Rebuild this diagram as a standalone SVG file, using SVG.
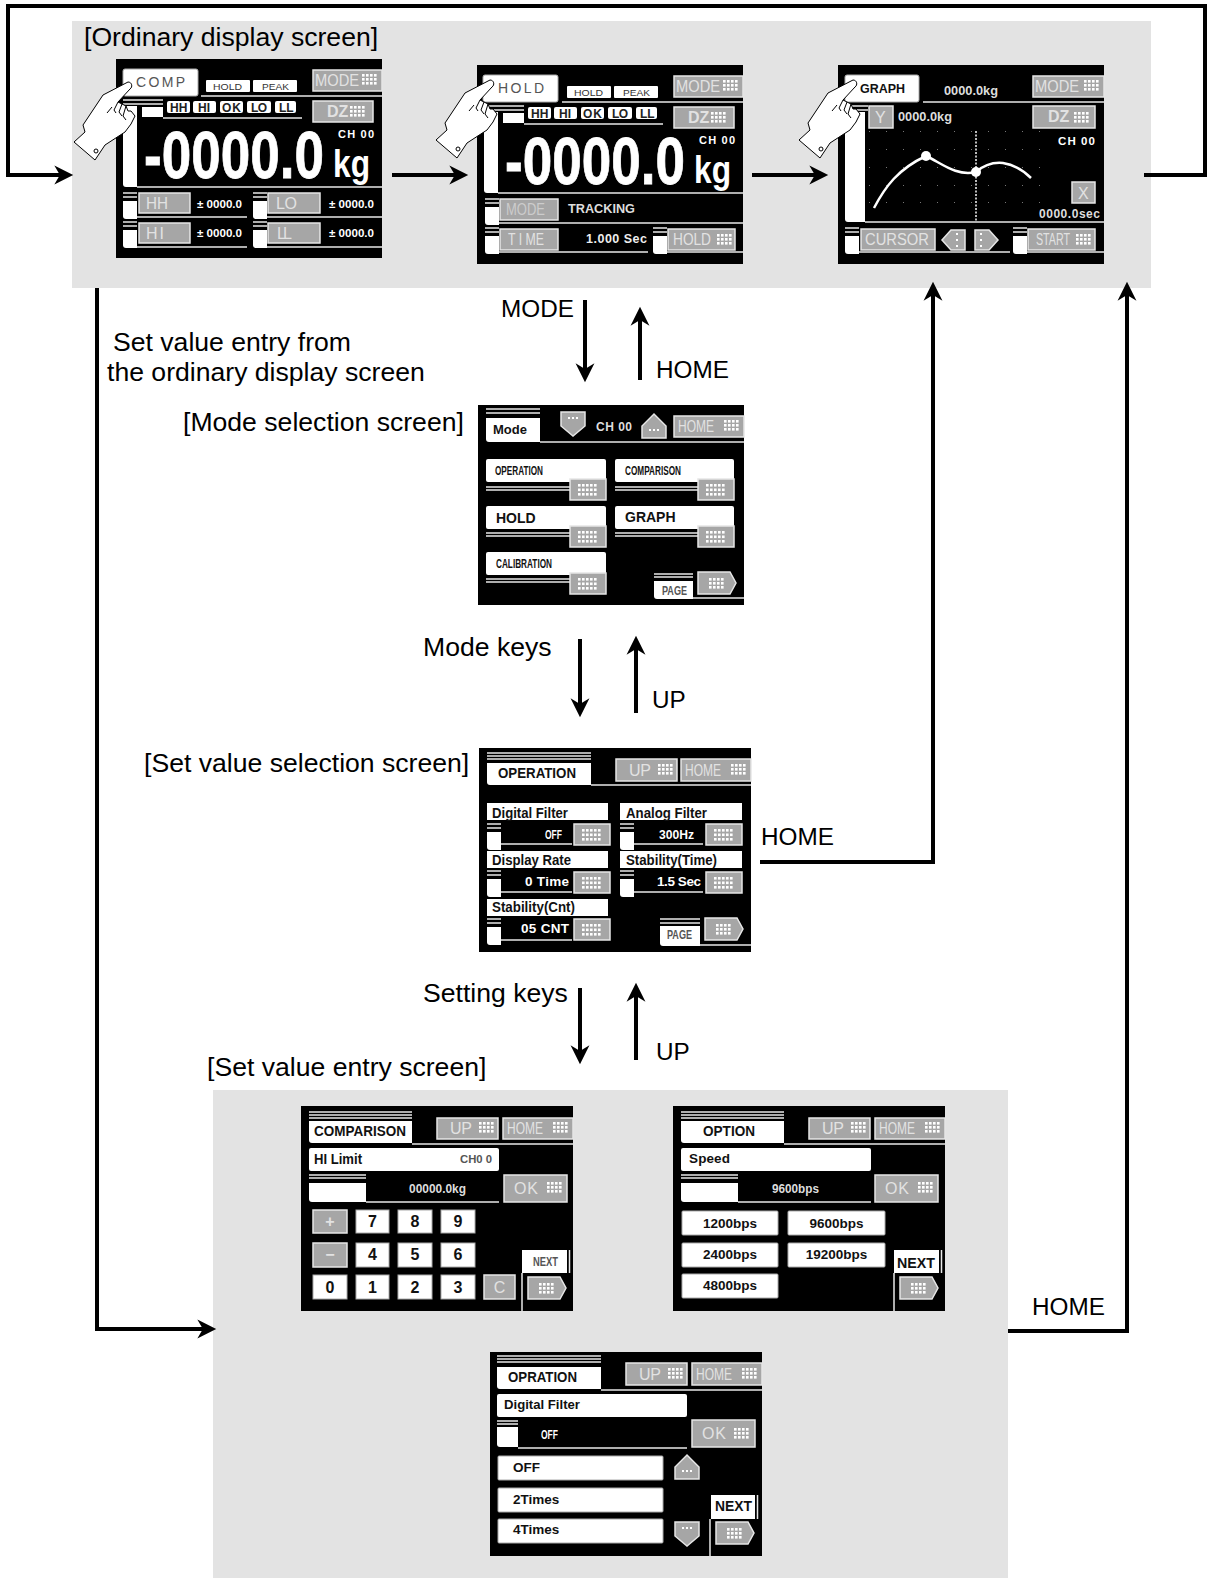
<svg xmlns="http://www.w3.org/2000/svg" width="1211" height="1578" viewBox="0 0 1211 1578">
<style>
text{font-family:"Liberation Sans",Arial,sans-serif}
.lb{font-size:26.6px;fill:#000}
.lc{font-size:24.300px;fill:#000}
.bg{fill:#e3e3e3}
.sc{fill:#000}
.w{fill:#fff}
.wb{fill:#fff;stroke:#aaa;stroke-width:1}
.k{fill:#a6a6a6;stroke:#e6e6e6;stroke-width:1.5}
.ln{stroke:#e8e8e8;stroke-width:1.5;fill:none}
.kt{font-size:16px;fill:#e2e2e2}
.bk{font-weight:bold;fill:#111}
.wt{font-weight:bold;fill:#fff}
.gt{fill:#555;font-weight:bold}
.cn{stroke:#000;stroke-width:4;fill:none}
.hand{fill:#fff;stroke:#000;stroke-width:1}
.hl{fill:none;stroke:#000;stroke-width:1}
</style>
<defs>
<marker id="ah" markerUnits="userSpaceOnUse" markerWidth="20" markerHeight="20" viewBox="0 -9 18 18" refX="6" refY="0" orient="auto"><path d="M0,-8.500 L17,0 L0,8.500 L5,0 Z" fill="#000"/></marker>
<g id="d" fill="#fff"><rect x="0" y="0" width="2.600" height="2.600"/><rect x="4" y="0" width="2.600" height="2.600"/><rect x="8" y="0" width="2.600" height="2.600"/><rect x="12" y="0" width="2.600" height="2.600"/><rect x="0" y="4" width="2.600" height="2.600"/><rect x="4" y="4" width="2.600" height="2.600"/><rect x="8" y="4" width="2.600" height="2.600"/><rect x="12" y="4" width="2.600" height="2.600"/><rect x="0" y="8" width="2.600" height="2.600"/><rect x="4" y="8" width="2.600" height="2.600"/><rect x="8" y="8" width="2.600" height="2.600"/><rect x="12" y="8" width="2.600" height="2.600"/></g>
<g id="m"><rect class="k" x="0" y="0" width="36" height="21"/><g fill="#fff"><rect x="8" y="5" width="2.600" height="2.600"/><rect x="12" y="5" width="2.600" height="2.600"/><rect x="16" y="5" width="2.600" height="2.600"/><rect x="20" y="5" width="2.600" height="2.600"/><rect x="24" y="5" width="2.600" height="2.600"/><rect x="8" y="9.500" width="2.600" height="2.600"/><rect x="12" y="9.500" width="2.600" height="2.600"/><rect x="16" y="9.500" width="2.600" height="2.600"/><rect x="20" y="9.500" width="2.600" height="2.600"/><rect x="24" y="9.500" width="2.600" height="2.600"/><rect x="8" y="14" width="2.600" height="2.600"/><rect x="12" y="14" width="2.600" height="2.600"/><rect x="16" y="14" width="2.600" height="2.600"/><rect x="20" y="14" width="2.600" height="2.600"/><rect x="24" y="14" width="2.600" height="2.600"/></g></g>
<g id="ak"><polygon class="k" points="0,0 32,0 38,11 32,22 0,22"/><use href="#d" x="11" y="6"/></g>
<g id="up"><polygon class="k" points="0,24 0,12 12,0 24,12 24,24"/><rect x="7" y="15" width="2" height="2" fill="#fff"/><rect x="11" y="15" width="2" height="2" fill="#fff"/><rect x="15" y="15" width="2" height="2" fill="#fff"/></g>
<g id="dn"><polygon class="k" points="0,0 24,0 24,14 12,24 0,14"/><rect x="7" y="5" width="2" height="2" fill="#fff"/><rect x="11" y="5" width="2" height="2" fill="#fff"/><rect x="15" y="5" width="2" height="2" fill="#fff"/></g>
<g id="hand"><path class="hand" d="M58,62 C62,62 63,67 60,69 L48,82 L52,84 L56,86 L58,91 L61,91 L65,96 L61,104 L55,112 L35,125 L25,140 L4,122 L15,112 L13,105 L33,75 Z"/><path class="hl" d="M48,82 L44,90 L46,93 M52,84 L49,92 L52,96 M56,86 L53,96 L56,100 M42,87 L37,93"/><circle class="hl" cx="26" cy="131" r="2"/></g>
<g id="rowf"><path class="ln" d="M0,1 H14 M0,5 H14"/><path class="w" d="M0,9 H14 V27 H3 Q0,27 0,24 Z"/></g>
</defs>

<rect class="bg" x="72" y="21" width="1079" height="267"/>
<rect class="bg" x="213" y="1090" width="795" height="488"/>

<g id="connectors">
<path class="cn" d="M1144,175 H1205 V6 H8 V175 H61" marker-end="url(#ah)"/>
<path class="cn" d="M392,175 H456" marker-end="url(#ah)"/>
<path class="cn" d="M752,175 H816" marker-end="url(#ah)"/>
<path class="cn" d="M97,288 V1329 H204" marker-end="url(#ah)"/>
<path class="cn" d="M585,300 V370" marker-end="url(#ah)"/>
<path class="cn" d="M640,380 V319" marker-end="url(#ah)"/>
<path class="cn" d="M580,639 V705" marker-end="url(#ah)"/>
<path class="cn" d="M636,713 V648" marker-end="url(#ah)"/>
<path class="cn" d="M580,988 V1052" marker-end="url(#ah)"/>
<path class="cn" d="M636,1060 V995" marker-end="url(#ah)"/>
<path class="cn" d="M760,862 H933 V294" marker-end="url(#ah)"/>
<path class="cn" d="M1008,1331 H1127 V294" marker-end="url(#ah)"/>
</g>

<g id="labels">
<text class="lb" x="84" y="46">[Ordinary display screen]</text>
<text class="lc" x="501" y="317">MODE</text>
<text class="lc" x="656" y="378">HOME</text>
<text class="lb" x="113" y="351">Set value entry from</text>
<text class="lb" x="107" y="381">the ordinary display screen</text>
<text class="lb" x="183" y="431">[Mode selection screen]</text>
<text class="lb" x="423" y="656">Mode keys</text>
<text class="lc" x="652" y="708">UP</text>
<text class="lb" x="144" y="772">[Set value selection screen]</text>
<text class="lc" x="761" y="845">HOME</text>
<text class="lb" x="423" y="1002">Setting keys</text>
<text class="lc" x="656" y="1060">UP</text>
<text class="lb" x="207" y="1076">[Set value entry screen]</text>
<text class="lc" x="1032" y="1315">HOME</text>
</g>

<g id="screen-comp" transform="translate(116,59)">
<rect class="sc" width="266" height="199"/>
<rect class="wb" x="7" y="10" width="75" height="27" rx="2"/>
<text x="20" y="28" font-size="14" fill="#555" textLength="49">COMP</text>
<rect class="w" x="90" y="21" width="44" height="12" rx="1"/><text x="97" y="31" font-size="9.500" fill="#333" textLength="29" lengthAdjust="spacingAndGlyphs">HOLD</text>
<rect class="w" x="137" y="21" width="44" height="12" rx="1"/><text x="146" y="31" font-size="9.500" fill="#333" textLength="27" lengthAdjust="spacingAndGlyphs">PEAK</text>
<path class="ln" d="M85,37 H266"/>
<rect class="k" x="197" y="11" width="69" height="21"/><text class="kt" x="199" y="27" textLength="44" lengthAdjust="spacingAndGlyphs">MODE</text><use href="#d" x="246" y="15"/>
<path class="ln" d="M7,41 H47 M7,45 H47"/><rect class="w" x="26" y="48" width="21" height="10"/><path class="w" d="M7,47 H21 V128 H10 Q7,128 7,125 Z"/><path class="ln" d="M47,59 H186 M21,128 H266"/>
<g font-size="12" font-weight="bold" fill="#222"><rect class="w" x="51" y="42" width="23" height="12" rx="2"/><text x="54" y="52.500">HH</text><rect class="w" x="77" y="42" width="23" height="12" rx="2"/><text x="82" y="52.500">HI</text><rect class="w" x="104" y="42" width="23" height="12" rx="2"/><text x="106" y="52.500" textLength="19">OK</text><rect class="w" x="131" y="42" width="24" height="12" rx="2"/><text x="135" y="52.500" textLength="16">LO</text><rect class="w" x="159" y="42" width="21" height="12" rx="2"/><text x="163" y="52.500">LL</text></g>
<rect class="k" x="197" y="42" width="60" height="21"/><text class="kt" x="211" y="58" font-weight="bold">DZ</text><use href="#d" x="234" y="47"/>
<text class="wt" x="222" y="79" font-size="11" textLength="36">CH 00</text>
<text class="wt" transform="translate(28,119) scale(.804,1)" font-size="66" stroke="#fff" stroke-width=".8">-0000.0</text>
<text class="wt" transform="translate(217,118) scale(.835,1)" font-size="38">kg</text>
<use href="#rowf" x="7" y="133"/><path class="ln" d="M21,158 H131"/>
<rect class="k" x="23" y="134" width="51" height="20"/><text class="kt" x="30" y="150" textLength="22" lengthAdjust="spacingAndGlyphs">HH</text>
<text class="wt" x="81" y="149" font-size="11" textLength="45" lengthAdjust="spacingAndGlyphs">± 0000.0</text>
<use href="#rowf" x="137" y="133"/><path class="ln" d="M151,158 H266"/>
<rect class="k" x="152" y="134" width="52" height="20"/><text class="kt" x="160" y="150" textLength="21">LO</text>
<text class="wt" x="213" y="149" font-size="11" textLength="45" lengthAdjust="spacingAndGlyphs">± 0000.0</text>
<use href="#rowf" x="7" y="162"/><path class="ln" d="M21,188 H131"/>
<rect class="k" x="23" y="164" width="51" height="20"/><text class="kt" x="30" y="180" textLength="18">H I</text>
<text class="wt" x="81" y="178" font-size="11" textLength="45" lengthAdjust="spacingAndGlyphs">± 0000.0</text>
<use href="#rowf" x="137" y="162"/><path class="ln" d="M151,188 H266"/>
<rect class="k" x="152" y="164" width="52" height="20"/><text class="kt" x="161" y="180" textLength="15">LL</text>
<text class="wt" x="213" y="178" font-size="11" textLength="45" lengthAdjust="spacingAndGlyphs">± 0000.0</text>
</g>
<use id="hand-1" href="#hand" transform="translate(70,20)"/>

<g id="screen-hold" transform="translate(477,65)">
<rect class="sc" width="266" height="199"/>
<rect class="wb" x="6" y="10" width="75" height="27" rx="2"/>
<text x="21" y="28" font-size="14" fill="#555" textLength="46">HOLD</text>
<rect class="w" x="90" y="21" width="44" height="12" rx="1"/><text x="97" y="31" font-size="9.500" fill="#333" textLength="29" lengthAdjust="spacingAndGlyphs">HOLD</text>
<rect class="w" x="137" y="21" width="44" height="12" rx="1"/><text x="146" y="31" font-size="9.500" fill="#333" textLength="27" lengthAdjust="spacingAndGlyphs">PEAK</text>
<path class="ln" d="M85,37 H266"/>
<rect class="k" x="197" y="11" width="69" height="21"/><text class="kt" x="199" y="27" textLength="44" lengthAdjust="spacingAndGlyphs">MODE</text><use href="#d" x="246" y="15"/>
<path class="ln" d="M7,41 H47 M7,45 H47"/><rect class="w" x="26" y="48" width="21" height="10"/><path class="w" d="M7,47 H21 V128 H10 Q7,128 7,125 Z"/><path class="ln" d="M47,59 H186 M21,128 H266"/>
<g font-size="12" font-weight="bold" fill="#222"><rect class="w" x="51" y="42" width="23" height="12" rx="2"/><text x="54" y="52.500">HH</text><rect class="w" x="77" y="42" width="23" height="12" rx="2"/><text x="82" y="52.500">HI</text><rect class="w" x="104" y="42" width="23" height="12" rx="2"/><text x="106" y="52.500" textLength="19">OK</text><rect class="w" x="131" y="42" width="24" height="12" rx="2"/><text x="135" y="52.500" textLength="16">LO</text><rect class="w" x="159" y="42" width="21" height="12" rx="2"/><text x="163" y="52.500">LL</text></g>
<rect class="k" x="197" y="42" width="60" height="21"/><text class="kt" x="211" y="58" font-weight="bold">DZ</text><use href="#d" x="234" y="47"/>
<text class="wt" x="222" y="79" font-size="11" textLength="36">CH 00</text>
<text class="wt" transform="translate(28,119) scale(.804,1)" font-size="66" stroke="#fff" stroke-width=".8">-0000.0</text>
<text class="wt" transform="translate(217,118) scale(.835,1)" font-size="38">kg</text>
<use href="#rowf" x="8" y="133"/><path class="ln" d="M22,158 H266"/>
<rect class="k" x="23" y="134" width="58" height="21"/><text class="kt" x="29" y="150" textLength="39" lengthAdjust="spacingAndGlyphs" style="fill:#ccc">MODE</text>
<text class="wt" x="91" y="148" font-size="13.500" textLength="67" lengthAdjust="spacingAndGlyphs" style="fill:#ddd">TRACKING</text>
<use href="#rowf" x="8" y="162"/><path class="ln" d="M22,187 H171"/>
<rect class="k" x="23" y="164" width="58" height="21"/><text class="kt" x="31" y="180" textLength="36" lengthAdjust="spacingAndGlyphs">T I ME</text>
<text class="wt" x="109" y="178" font-size="12.500" textLength="61" style="fill:#eee">1.000 Sec</text>
<use href="#rowf" x="176" y="162"/><path class="ln" d="M190,187 H266"/>
<rect class="k" x="191" y="164" width="67" height="21"/><text class="kt" x="196" y="180" textLength="38" lengthAdjust="spacingAndGlyphs">HOLD</text><use href="#d" x="240" y="169"/>
</g>
<use id="hand-2" href="#hand" transform="translate(432,18)"/>

<g id="screen-graph" transform="translate(838,65)">
<rect class="sc" width="266" height="199"/>
<rect class="wb" x="7" y="10" width="74" height="27" rx="2"/>
<text class="bk" x="22" y="28" font-size="13.500" textLength="45" lengthAdjust="spacingAndGlyphs">GRAPH</text>
<text class="wt" x="106" y="30" font-size="13" textLength="54" lengthAdjust="spacingAndGlyphs" style="fill:#ddd">0000.0kg</text>
<path class="ln" d="M85,37 H266"/>
<rect class="k" x="195" y="11" width="71" height="21"/><text class="kt" x="197" y="27" textLength="44" lengthAdjust="spacingAndGlyphs">MODE</text><use href="#d" x="246" y="15"/>
<path class="w" d="M7,47 H27 V157 H10 Q7,157 7,154 Z"/><path class="ln" d="M7,41 H30 M7,45 H30 M27,157 H266"/>
<rect class="k" x="31" y="41" width="24" height="22"/><text class="kt" x="37" y="58">Y</text>
<text class="wt" x="60" y="56" font-size="13" textLength="54" lengthAdjust="spacingAndGlyphs" style="fill:#ddd">0000.0kg</text>
<rect class="k" x="195" y="41" width="62" height="22"/><text class="kt" x="210" y="57" font-weight="bold">DZ</text><use href="#d" x="236" y="47"/>
<text class="wt" x="220" y="80" font-size="11.500" textLength="37">CH 00</text>
<g fill="#777"><rect x="31" y="66" width="1" height="1"/><rect x="48" y="66" width="1" height="1"/><rect x="65" y="66" width="1" height="1"/><rect x="82" y="66" width="1" height="1"/><rect x="99" y="66" width="1" height="1"/><rect x="116" y="66" width="1" height="1"/><rect x="133" y="66" width="1" height="1"/><rect x="150" y="66" width="1" height="1"/><rect x="167" y="66" width="1" height="1"/><rect x="184" y="66" width="1" height="1"/><rect x="201" y="66" width="1" height="1"/><rect x="31" y="84" width="1" height="1"/><rect x="48" y="84" width="1" height="1"/><rect x="65" y="84" width="1" height="1"/><rect x="82" y="84" width="1" height="1"/><rect x="99" y="84" width="1" height="1"/><rect x="116" y="84" width="1" height="1"/><rect x="133" y="84" width="1" height="1"/><rect x="150" y="84" width="1" height="1"/><rect x="167" y="84" width="1" height="1"/><rect x="184" y="84" width="1" height="1"/><rect x="201" y="84" width="1" height="1"/><rect x="31" y="102" width="1" height="1"/><rect x="48" y="102" width="1" height="1"/><rect x="65" y="102" width="1" height="1"/><rect x="82" y="102" width="1" height="1"/><rect x="99" y="102" width="1" height="1"/><rect x="116" y="102" width="1" height="1"/><rect x="133" y="102" width="1" height="1"/><rect x="150" y="102" width="1" height="1"/><rect x="167" y="102" width="1" height="1"/><rect x="184" y="102" width="1" height="1"/><rect x="201" y="102" width="1" height="1"/><rect x="31" y="120" width="1" height="1"/><rect x="48" y="120" width="1" height="1"/><rect x="65" y="120" width="1" height="1"/><rect x="82" y="120" width="1" height="1"/><rect x="99" y="120" width="1" height="1"/><rect x="116" y="120" width="1" height="1"/><rect x="133" y="120" width="1" height="1"/><rect x="150" y="120" width="1" height="1"/><rect x="167" y="120" width="1" height="1"/><rect x="184" y="120" width="1" height="1"/><rect x="201" y="120" width="1" height="1"/><rect x="31" y="137" width="1" height="1"/><rect x="48" y="137" width="1" height="1"/><rect x="65" y="137" width="1" height="1"/><rect x="82" y="137" width="1" height="1"/><rect x="99" y="137" width="1" height="1"/><rect x="116" y="137" width="1" height="1"/><rect x="133" y="137" width="1" height="1"/><rect x="150" y="137" width="1" height="1"/><rect x="167" y="137" width="1" height="1"/><rect x="184" y="137" width="1" height="1"/><rect x="201" y="137" width="1" height="1"/></g>
<path d="M138,66 V156" stroke="#bbb" stroke-width="2" stroke-dasharray="2 1.500" fill="none"/>
<path d="M36,143 C47,122 60,104 88,91 C102,97 118,112 138,107 C146,100 155,97 165,98 C178,100 187,107 193,113" stroke="#fff" stroke-width="2.500" fill="none"/>
<circle cx="88" cy="91" r="5" fill="#fff"/><circle cx="138" cy="107" r="5" fill="#fff"/>
<rect class="k" x="234" y="117" width="23" height="21"/><text class="kt" x="240" y="134">X</text>
<text class="wt" x="201" y="153" font-size="12" textLength="61" style="fill:#ddd">0000.0sec</text>
<use href="#rowf" x="7" y="162"/><path class="ln" d="M21,187 H172"/>
<rect class="k" x="23" y="164" width="74" height="21"/><text class="kt" x="27" y="180" textLength="64" lengthAdjust="spacingAndGlyphs">CURSOR</text>
<polygon class="k" points="104,175 113,165 127,165 127,185 113,185"/><rect x="118" y="168" width="2" height="2" fill="#fff"/><rect x="118" y="174" width="2" height="2" fill="#fff"/><rect x="118" y="180" width="2" height="2" fill="#fff"/>
<polygon class="k" points="137,165 151,165 160,175 151,185 137,185"/><rect x="142" y="168" width="2" height="2" fill="#fff"/><rect x="142" y="174" width="2" height="2" fill="#fff"/><rect x="142" y="180" width="2" height="2" fill="#fff"/>
<use href="#rowf" x="175" y="162"/><path class="ln" d="M189,187 H266"/>
<rect class="k" x="190" y="164" width="67" height="21"/><text class="kt" x="198" y="180" textLength="34" lengthAdjust="spacingAndGlyphs">START</text><use href="#d" x="238" y="169"/>
</g>
<use id="hand-3" href="#hand" transform="translate(795,18)"/>

<g id="screen-mode" transform="translate(478,405)">
<rect class="sc" width="266" height="200"/>
<path class="ln" d="M8,4 H62 M8,8 H62"/><path class="w" d="M8,13 H62 V37 H11 Q8,37 8,34 Z"/><path class="ln" d="M62,37 H266"/>
<text class="bk" x="15" y="29" font-size="13" textLength="34">Mode</text>
<use href="#dn" x="83" y="7"/>
<text class="wt" x="118" y="26" font-size="12" textLength="36" style="fill:#ddd">CH 00</text>
<use href="#up" x="164" y="9"/>
<rect class="k" x="196" y="11" width="70" height="21"/><text class="kt" x="200" y="27" textLength="36" lengthAdjust="spacingAndGlyphs">HOME</text><use href="#d" x="246" y="15"/>
<rect class="w" x="8" y="54" width="120" height="23" rx="2"/><path class="ln" d="M8,82 H92 M8,85 H92"/><use href="#m" x="92" y="74"/>
<text class="bk" x="17" y="70" font-size="12" textLength="48" lengthAdjust="spacingAndGlyphs">OPERATION</text>
<rect class="w" x="137" y="54" width="119" height="23" rx="2"/><path class="ln" d="M137,82 H220 M137,85 H220"/><use href="#m" x="220" y="74"/>
<text class="bk" x="147" y="70" font-size="12" textLength="56" lengthAdjust="spacingAndGlyphs">COMPARISON</text>
<rect class="w" x="8" y="101" width="120" height="23" rx="2"/><path class="ln" d="M8,128 H92 M8,131 H92"/><use href="#m" x="92" y="121"/>
<text class="bk" x="18" y="118" font-size="14">HOLD</text>
<rect class="w" x="137" y="101" width="119" height="23" rx="2"/><path class="ln" d="M137,128 H220 M137,131 H220"/><use href="#m" x="220" y="121"/>
<text class="bk" x="147" y="117" font-size="14">GRAPH</text>
<rect class="w" x="8" y="147" width="120" height="23" rx="2"/><path class="ln" d="M8,174 H92 M8,177 H92"/><use href="#m" x="92" y="168"/>
<text class="bk" x="18" y="163" font-size="12" textLength="56" lengthAdjust="spacingAndGlyphs">CALIBRATION</text>
<path class="ln" d="M176,169 H215 M176,172 H215"/><path class="w" d="M176,176 H215 V194 H179 Q176,194 176,191 Z"/><path class="ln" d="M215,193 H266"/>
<text class="gt" x="184" y="190" font-size="12" textLength="25" lengthAdjust="spacingAndGlyphs">PAGE</text>
<use href="#ak" x="220" y="167"/>
</g>

<g id="screen-setting" transform="translate(479,748)">
<rect class="sc" width="272" height="204"/>
<path class="ln" d="M8,5 H112 M8,8 H112 M8,11 H112"/><path class="w" d="M8,15 H112 V37 H11 Q8,37 8,34 Z"/><path class="ln" d="M112,37 H272"/>
<text class="bk" x="19" y="30" font-size="14" textLength="78" lengthAdjust="spacingAndGlyphs">OPERATION</text>
<rect class="k" x="137" y="11" width="61" height="22"/><text class="kt" x="150" y="28" textLength="22">U P</text><use href="#d" x="179" y="16"/>
<rect class="k" x="202" y="11" width="70" height="22"/><text class="kt" x="206" y="28" textLength="36" lengthAdjust="spacingAndGlyphs">HOME</text><use href="#d" x="252" y="16"/>
<rect class="w" x="8" y="55" width="121" height="17"/><text class="bk" x="13" y="70" font-size="14" textLength="76" lengthAdjust="spacingAndGlyphs">Digital Filter</text>
<use href="#rowf" x="8" y="75"/><path class="ln" d="M22,96 H93"/><use href="#m" x="95" y="76"/>
<text class="wt" x="66" y="91" font-size="12.500" textLength="17" lengthAdjust="spacingAndGlyphs">OFF</text>
<rect class="w" x="141" y="55" width="122" height="17"/><text class="bk" x="147" y="70" font-size="14" textLength="81" lengthAdjust="spacingAndGlyphs">Analog Filter</text>
<use href="#rowf" x="141" y="75"/><path class="ln" d="M155,96 H224"/><use href="#m" x="227" y="76"/>
<text class="wt" x="180" y="91" font-size="12.500" textLength="35" lengthAdjust="spacingAndGlyphs">300Hz</text>
<rect class="w" x="8" y="103" width="121" height="17"/><text class="bk" x="13" y="117" font-size="14" textLength="79" lengthAdjust="spacingAndGlyphs">Display Rate</text>
<use href="#rowf" x="8" y="122"/><path class="ln" d="M22,144 H93"/><use href="#m" x="95" y="124"/>
<text class="wt" x="46" y="138" font-size="13.500" textLength="44">0 Time</text>
<rect class="w" x="141" y="103" width="122" height="17"/><text class="bk" x="147" y="117" font-size="14" textLength="91" lengthAdjust="spacingAndGlyphs">Stability(Time)</text>
<use href="#rowf" x="141" y="122"/><path class="ln" d="M155,144 H224"/><use href="#m" x="227" y="124"/>
<text class="wt" x="178" y="138" font-size="13.500" textLength="44">1.5 Sec</text>
<rect class="w" x="8" y="151" width="121" height="17"/><text class="bk" x="13" y="164" font-size="14" textLength="83" lengthAdjust="spacingAndGlyphs">Stability(Cnt)</text>
<use href="#rowf" x="8" y="170"/><path class="ln" d="M22,192 H93"/><use href="#m" x="95" y="171"/>
<text class="wt" x="42" y="185" font-size="13.500" textLength="48">05 CNT</text>
<path class="ln" d="M181,171 H221 M181,175 H221"/><path class="w" d="M181,178 H221 V198 H184 Q181,198 181,195 Z"/><path class="ln" d="M221,197 H272"/>
<text class="gt" x="188" y="191" font-size="12" textLength="25" lengthAdjust="spacingAndGlyphs">PAGE</text>
<use href="#ak" x="226" y="170"/>
</g>

<g id="screen-comparison" transform="translate(301,1106)">
<rect class="sc" width="272" height="205"/>
<path class="ln" d="M8,6 H111 M8,9 H111 M8,12 H111"/><path class="w" d="M8,15 H111 V37 H11 Q8,37 8,34 Z"/><path class="ln" d="M111,38 H272"/>
<text class="bk" x="13" y="30" font-size="14" textLength="92" lengthAdjust="spacingAndGlyphs">COMPARISON</text>
<rect class="k" x="136" y="12" width="61" height="21"/><text class="kt" x="149" y="28" textLength="22">U P</text><use href="#d" x="178" y="16"/>
<rect class="k" x="202" y="12" width="70" height="21"/><text class="kt" x="206" y="28" textLength="36" lengthAdjust="spacingAndGlyphs">HOME</text><use href="#d" x="252" y="16"/>
<rect class="w" x="8" y="42" width="190" height="23" rx="2"/><text class="bk" x="13" y="58" font-size="14" textLength="48" lengthAdjust="spacingAndGlyphs">HI Limit</text>
<text class="gt" x="159" y="57" font-size="11" textLength="32" lengthAdjust="spacingAndGlyphs">CH0 0</text>
<path class="ln" d="M8,69 H65 M8,72 H65"/><path class="w" d="M8,77 H65 V96 H11 Q8,96 8,93 Z"/><path class="ln" d="M65,96 H198"/>
<text class="wt" x="108" y="87" font-size="12.500" textLength="57" lengthAdjust="spacingAndGlyphs" style="fill:#ddd">00000.0kg</text>
<rect class="k" x="203" y="69" width="63" height="27"/><text class="kt" x="213" y="88" textLength="24">O K</text><use href="#d" x="246" y="76"/>
<g font-size="16" font-weight="bold" text-anchor="middle" fill="#111">
<rect class="k" x="12" y="104" width="34" height="23"/><text x="29" y="121" style="fill:#e2e2e2">+</text>
<rect class="wb" x="55" y="104" width="33" height="23"/><text x="71.500" y="121">7</text>
<rect class="wb" x="97" y="104" width="34" height="23"/><text x="114" y="121">8</text>
<rect class="wb" x="140" y="104" width="34" height="23"/><text x="157" y="121">9</text>
<rect class="k" x="12" y="137" width="34" height="24"/><text x="29" y="154" style="fill:#e2e2e2">−</text>
<rect class="wb" x="55" y="137" width="33" height="24"/><text x="71.500" y="154">4</text>
<rect class="wb" x="97" y="137" width="34" height="24"/><text x="114" y="154">5</text>
<rect class="wb" x="140" y="137" width="34" height="24"/><text x="157" y="154">6</text>
<rect class="wb" x="12" y="169" width="34" height="24"/><text x="29" y="187">0</text>
<rect class="wb" x="55" y="169" width="33" height="24"/><text x="71.500" y="187">1</text>
<rect class="wb" x="97" y="169" width="34" height="24"/><text x="114" y="187">2</text>
<rect class="wb" x="140" y="169" width="34" height="24"/><text x="157" y="187">3</text>
<rect class="k" x="183" y="169" width="31" height="24"/><text x="198.500" y="187" style="fill:#e2e2e2;font-weight:normal">C</text>
</g>
<rect class="w" x="221" y="144" width="45" height="23"/><path class="ln" d="M268.500,144 V167 M221,167 V205"/>
<text class="gt" x="232" y="160" font-size="12" textLength="25" lengthAdjust="spacingAndGlyphs">NEXT</text>
<use href="#ak" x="227" y="171"/>
</g>

<g id="screen-option" transform="translate(673,1106)">
<rect class="sc" width="272" height="205"/>
<path class="ln" d="M8,6 H111 M8,9 H111 M8,12 H111"/><path class="w" d="M8,15 H111 V37 H11 Q8,37 8,34 Z"/><path class="ln" d="M111,38 H272"/>
<text class="bk" x="30" y="30" font-size="14" textLength="52" lengthAdjust="spacingAndGlyphs">OPTION</text>
<rect class="k" x="136" y="12" width="61" height="21"/><text class="kt" x="149" y="28" textLength="22">U P</text><use href="#d" x="178" y="16"/>
<rect class="k" x="202" y="12" width="70" height="21"/><text class="kt" x="206" y="28" textLength="36" lengthAdjust="spacingAndGlyphs">HOME</text><use href="#d" x="252" y="16"/>
<rect class="w" x="8" y="42" width="190" height="23" rx="2"/><text class="bk" x="16" y="57" font-size="13.500" textLength="41">Speed</text>
<path class="ln" d="M8,69 H65 M8,72 H65"/><path class="w" d="M8,77 H65 V96 H11 Q8,96 8,93 Z"/><path class="ln" d="M65,96 H198"/>
<text class="wt" x="99" y="87" font-size="12.500" textLength="47" lengthAdjust="spacingAndGlyphs" style="fill:#ddd">9600bps</text>
<rect class="k" x="202" y="69" width="63" height="27"/><text class="kt" x="212" y="88" textLength="24">O K</text><use href="#d" x="245" y="76"/>
<g font-size="13.500" font-weight="bold" text-anchor="middle" fill="#111">
<rect class="wb" x="9" y="105" width="96" height="24" rx="1"/><text x="57" y="122">1200bps</text>
<rect class="wb" x="115" y="105" width="97" height="24" rx="1"/><text x="163.500" y="122">9600bps</text>
<rect class="wb" x="9" y="137" width="96" height="24" rx="1"/><text x="57" y="153">2400bps</text>
<rect class="wb" x="115" y="137" width="97" height="24" rx="1"/><text x="163.500" y="153">19200bps</text>
<rect class="wb" x="9" y="168" width="96" height="24" rx="1"/><text x="57" y="184">4800bps</text>
</g>
<rect class="w" x="221" y="144" width="45" height="23"/><path class="ln" d="M268.500,144 V167 M221,167 V205"/>
<text class="bk" x="224" y="162" font-size="14" textLength="38" lengthAdjust="spacingAndGlyphs">NEXT</text>
<use href="#ak" x="227" y="171"/>
</g>

<g id="screen-opration" transform="translate(490,1352)">
<rect class="sc" width="272" height="204"/>
<path class="ln" d="M7,4 H111 M7,7 H111 M7,10 H111"/><path class="w" d="M7,15 H111 V37 H10 Q7,37 7,34 Z"/><path class="ln" d="M111,38 H272"/>
<text class="bk" x="18" y="30" font-size="14" textLength="69" lengthAdjust="spacingAndGlyphs">OPRATION</text>
<rect class="k" x="136" y="11" width="61" height="22"/><text class="kt" x="149" y="28" textLength="22">U P</text><use href="#d" x="178" y="16"/>
<rect class="k" x="202" y="11" width="70" height="22"/><text class="kt" x="206" y="28" textLength="36" lengthAdjust="spacingAndGlyphs">HOME</text><use href="#d" x="252" y="16"/>
<rect class="w" x="7" y="42" width="190" height="23" rx="2"/><text class="bk" x="14" y="57" font-size="13.500" textLength="76" lengthAdjust="spacingAndGlyphs">Digital Filter</text>
<path class="ln" d="M7,69 H28 M7,72 H28"/><path class="w" d="M7,75 H28 V95 H10 Q7,95 7,92 Z"/><path class="ln" d="M28,96 H197"/>
<text class="wt" x="51" y="87" font-size="12.500" textLength="17" lengthAdjust="spacingAndGlyphs">OFF</text>
<rect class="k" x="202" y="68" width="63" height="27"/><text class="kt" x="212" y="87" textLength="24">O K</text><use href="#d" x="244" y="76"/>
<g font-size="13.500" font-weight="bold" fill="#111">
<rect class="wb" x="8" y="104" width="165" height="24" rx="1"/><text x="23" y="120">OFF</text>
<rect class="wb" x="8" y="136" width="165" height="24" rx="1"/><text x="23" y="152">2Times</text>
<rect class="wb" x="8" y="167" width="165" height="24" rx="1"/><text x="23" y="182">4Times</text>
</g>
<use href="#up" x="185" y="103"/>
<use href="#dn" x="185" y="170"/>
<rect class="w" x="221" y="143" width="44" height="24"/><path class="ln" d="M267.500,143 V167 M220,167 V204"/>
<text class="bk" x="225" y="159" font-size="14" textLength="37" lengthAdjust="spacingAndGlyphs">NEXT</text>
<use href="#ak" x="226" y="170"/>
</g>
</svg>
